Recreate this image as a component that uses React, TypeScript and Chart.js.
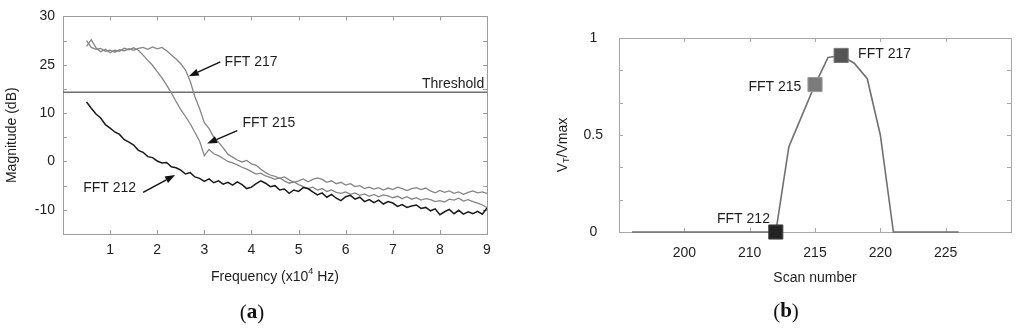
import React, { useEffect, useRef } from "react";
import { Chart, registerables } from "chart.js";

Chart.register(...registerables);

// ---------------- Panel (a): FFT magnitude spectra ----------------
const frequency = [
  0.5, 0.6, 0.7, 0.8, 0.9, 1.0, 1.1, 1.2, 1.3, 1.4, 1.5, 1.6, 1.7, 1.8, 1.9, 2.0, 2.1, 2.2, 2.3, 2.4,
  2.5, 2.6, 2.7, 2.8, 2.9, 3.0, 3.1, 3.2, 3.3, 3.4, 3.5, 3.6, 3.7, 3.8, 3.9, 4.0, 4.1, 4.2, 4.3, 4.4,
  4.5, 4.6, 4.7, 4.8, 4.9, 5.0, 5.1, 5.2, 5.3, 5.4, 5.5, 5.6, 5.7, 5.8, 5.9, 6.0, 6.1, 6.2, 6.3, 6.4,
  6.5, 6.6, 6.7, 6.8, 6.9, 7.0, 7.1, 7.2, 7.3, 7.4, 7.5, 7.6, 7.7, 7.8, 7.9, 8.0, 8.1, 8.2, 8.3, 8.4,
  8.5, 8.6, 8.7, 8.8, 8.9, 9.0,
];

const fft212 = [
  12.3, 11.0, 9.8, 9.0, 7.6, 6.9, 6.1, 5.6, 4.5, 4.0, 3.4, 2.3, 1.9, 1.0, 0.8, 0.1, -0.3, -0.2, -1.1, -1.3,
  -1.8, -2.6, -2.3, -3.2, -3.5, -4.1, -3.6, -4.4, -4.0, -4.7, -4.3, -4.9, -4.2, -4.8, -5.6, -5.3, -4.6, -4.0, -4.5, -5.2,
  -5.0, -5.9, -5.7, -6.6, -5.9, -6.2, -5.4, -5.6, -6.3, -6.9, -6.5, -7.4, -6.8, -7.6, -8.1, -7.3, -7.0, -7.8, -7.4, -8.3,
  -7.9, -8.5, -8.0, -8.8, -8.3, -8.6, -9.3, -8.9, -9.5, -9.2, -9.0, -9.7, -9.5, -10.2, -9.8, -11.0, -10.4, -9.9, -10.8, -10.1,
  -10.9, -10.4, -10.8, -10.3, -10.9, -9.6,
];

const fft215 = [
  23.8, 25.2, 23.5, 22.7, 23.2, 22.5, 23.0, 22.8, 23.4, 23.1, 23.5, 23.0, 22.0, 20.9, 19.9, 18.6, 17.3, 15.8, 14.2, 12.4,
  10.7, 9.3, 7.8, 6.0, 4.2, 1.2, 2.5, 1.6, 1.2, 0.6, 0.0, -0.3, -0.7, -1.2, -1.6, -2.1, -2.6, -2.4, -3.0, -3.3,
  -3.7, -3.4, -4.0, -4.5, -4.2, -4.8, -5.2, -5.6, -5.3, -5.9, -5.6, -6.2, -5.9, -6.4, -6.6, -6.3, -6.8, -6.5, -7.0, -6.7,
  -7.2, -6.8, -7.3, -6.9, -7.1, -7.5, -7.2, -7.7, -7.3, -7.8, -7.5, -8.0, -7.7, -7.9, -8.3, -8.1, -8.4, -7.8, -8.0, -7.6,
  -8.2, -7.9, -8.3, -8.6, -9.0, -9.5,
];

const fft217 = [
  25.0, 23.6, 23.2, 23.4, 22.8, 23.0, 22.6, 23.1, 22.9, 23.3, 23.0, 23.4, 23.6, 23.2, 23.7, 23.3, 23.6, 22.9, 22.0, 21.2,
  20.2, 18.9, 16.6, 13.4, 10.9, 8.0, 6.8, 5.0, 4.0, 2.8, 1.5, 0.9, 0.3, -0.1, 0.2, -0.5, -0.8, -1.6, -2.3, -2.8,
  -3.1, -3.5, -3.2, -3.8, -4.3, -4.0, -3.6, -4.2, -3.7, -3.4, -3.7, -4.3, -4.0, -4.6, -4.3, -4.9, -4.6, -5.2, -5.0, -5.6,
  -5.3, -5.7, -5.4, -5.9, -5.5, -5.8, -5.3, -5.6, -6.0, -5.6, -5.4, -5.8, -5.5, -6.1, -6.5, -6.0, -6.4, -6.1, -6.6, -6.3,
  -6.8, -6.4, -6.1, -6.5, -6.3, -6.6,
];

const thresholdLevel = 14.3;

const freqTickValues = [0, 1, 2, 3, 4, 5, 6, 7, 8, 9];
const freqTickLabels = ["", "1", "2", "3", "4", "5", "6", "7", "8", "9"];
const magTickValues = [-15, -10, -5, 0, 5, 10, 15, 20, 25, 30];
const magTickLabels = ["", "-10", "", "0", "", "10", "", "25", "", "30"];

// annotation texts and arrows (data coordinates)
const noteTexts = ["FFT 217", "FFT 215", "FFT 212"];
const noteTextX = [3.43, 3.81, 0.43];
const noteTextY = [20.5, 7.9, -5.5];
const noteArrowFromX = [3.34, 3.7, 1.7];
const noteArrowFromY = [20.6, 6.4, -6.4];
const noteArrowToX = [2.67, 3.06, 2.38];
const noteArrowToY = [17.6, 3.7, -2.8];
const thresholdText = "Threshold";
const thresholdTextX = 8.94;
const thresholdTextY = 16.0;

// ---------------- Panel (b): normalised voltage vs scan ----------------
const scanNumbers = [
  201, 202, 203, 204, 205, 206, 207, 208, 209, 210, 211, 212, 213, 214, 215, 216, 217, 218, 219, 220,
  221, 222, 223, 224, 225, 226,
];
const ratio = [
  0, 0, 0, 0, 0, 0, 0, 0, 0, 0, 0, 0, 0.44, 0.6, 0.76, 0.9, 0.91, 0.87, 0.79, 0.5,
  0, 0, 0, 0, 0, 0,
];
const markedScans = [212, 215, 217];
const markedRatios = [0, 0.76, 0.91];
const markedLabels = ["FFT 212", "FFT 215", "FFT 217"];
const markedLabelX = [211.55, 213.95, 218.3];
const markedLabelY = [0.067, 0.747, 0.918];
const markedLabelAlign = ["right", "right", "left"];

const scanTickValues = [200, 205, 210, 215, 220, 225, 230];
const scanTickLabels = ["", "200", "210", "215", "220", "225", ""];
const ratioTickValues = [0, 1 / 6, 2 / 6, 3 / 6, 4 / 6, 5 / 6, 1];
const ratioTickLabels = ["0", "", "", "0.5", "", "", "1"];

// ---------------- helpers ----------------
const SANS = "'Liberation Sans', Arial, Helvetica, sans-serif";
const SERIF = "'Liberation Serif', 'Times New Roman', serif";
const TEXT = "#1e1e1e";

function labelFor(values: number[], labels: string[], v: number): string {
  for (let i = 0; i < values.length; i++) {
    if (Math.abs(values[i] - v) < 1e-6) return labels[i];
  }
  return "";
}

function drawFrame(chart: any, xVals: number[], yVals: number[], color: string) {
  const { ctx, chartArea } = chart;
  const { left, right, top, bottom } = chartArea;
  const xs = chart.scales.x;
  const ys = chart.scales.y;
  const tl = 4;
  ctx.save();
  ctx.strokeStyle = color;
  ctx.lineWidth = 1;
  ctx.strokeRect(Math.round(left) + 0.5, Math.round(top) + 0.5, Math.round(right - left), Math.round(bottom - top));
  ctx.beginPath();
  xVals.forEach((v) => {
    if (v <= xs.min || v >= xs.max) return;
    const px = Math.round(xs.getPixelForValue(v)) + 0.5;
    ctx.moveTo(px, bottom);
    ctx.lineTo(px, bottom - tl);
    ctx.moveTo(px, top);
    ctx.lineTo(px, top + tl);
  });
  yVals.forEach((v) => {
    if (v <= ys.min || v >= ys.max) return;
    const py = Math.round(ys.getPixelForValue(v)) + 0.5;
    ctx.moveTo(left, py);
    ctx.lineTo(left + tl, py);
    ctx.moveTo(right, py);
    ctx.lineTo(right - tl, py);
  });
  ctx.stroke();
  ctx.restore();
}

function drawArrow(ctx: CanvasRenderingContext2D, x1: number, y1: number, x2: number, y2: number, color: string) {
  const ang = Math.atan2(y2 - y1, x2 - x1);
  const head = 10;
  const half = 3.6;
  const bx = x2 - head * Math.cos(ang);
  const by = y2 - head * Math.sin(ang);
  ctx.save();
  ctx.strokeStyle = color;
  ctx.fillStyle = color;
  ctx.lineWidth = 1.4;
  ctx.beginPath();
  ctx.moveTo(x1, y1);
  ctx.lineTo(bx, by);
  ctx.stroke();
  ctx.beginPath();
  ctx.moveTo(x2, y2);
  ctx.lineTo(bx + half * Math.sin(ang), by - half * Math.cos(ang));
  ctx.lineTo(bx - half * Math.sin(ang), by + half * Math.cos(ang));
  ctx.closePath();
  ctx.fill();
  ctx.restore();
}

function drawCaption(ctx: CanvasRenderingContext2D, letter: string, cx: number, cy: number) {
  const reg = `normal 21px ${SERIF}`;
  const bold = `bold 21px ${SERIF}`;
  ctx.save();
  ctx.fillStyle = "#111";
  ctx.textBaseline = "middle";
  ctx.textAlign = "left";
  ctx.font = reg;
  const wp = ctx.measureText("(").width;
  const wq = ctx.measureText(")").width;
  ctx.font = bold;
  const wl = ctx.measureText(letter).width;
  let x = cx - (wp + wl + wq) / 2;
  ctx.font = reg;
  ctx.fillText("(", x, cy);
  x += wp;
  ctx.font = bold;
  ctx.fillText(letter, x, cy);
  x += wl;
  ctx.font = reg;
  ctx.fillText(")", x, cy);
  ctx.restore();
}

function drawParts(ctx: CanvasRenderingContext2D, parts: { t: string; size: number; dy: number }[], cx: number, cy: number) {
  let total = 0;
  parts.forEach((p) => {
    ctx.font = `normal ${p.size}px ${SANS}`;
    total += ctx.measureText(p.t).width;
  });
  let x = cx - total / 2;
  parts.forEach((p) => {
    ctx.font = `normal ${p.size}px ${SANS}`;
    ctx.fillText(p.t, x, cy + p.dy);
    x += ctx.measureText(p.t).width;
  });
}

const tickFont = { family: SANS, size: 14 };

// ---------------- chart configs ----------------
function makeLeftConfig(): any {
  const pts = (ys: number[]) => frequency.map((x, i) => ({ x, y: ys[i] }));
  const panelPlugin = {
    id: "panelA",
    beforeDatasetsDraw(chart: any) {
      drawFrame(chart, freqTickValues, magTickValues, "#9c9c9c");
    },
    afterDatasetsDraw(chart: any) {
      const { ctx, chartArea } = chart;
      const xs = chart.scales.x;
      const ys = chart.scales.y;
      ctx.save();
      ctx.fillStyle = TEXT;
      ctx.font = `normal 14px ${SANS}`;
      ctx.textBaseline = "middle";
      ctx.textAlign = "left";
      noteTexts.forEach((t, i) => {
        ctx.fillText(t, xs.getPixelForValue(noteTextX[i]), ys.getPixelForValue(noteTextY[i]));
        drawArrow(
          ctx,
          xs.getPixelForValue(noteArrowFromX[i]),
          ys.getPixelForValue(noteArrowFromY[i]),
          xs.getPixelForValue(noteArrowToX[i]),
          ys.getPixelForValue(noteArrowToY[i]),
          "#111"
        );
      });
      ctx.textAlign = "right";
      ctx.fillStyle = TEXT;
      ctx.font = `normal 14px ${SANS}`;
      ctx.fillText(thresholdText, xs.getPixelForValue(thresholdTextX), ys.getPixelForValue(thresholdTextY));

      // axis titles
      ctx.textAlign = "left";
      ctx.textBaseline = "middle";
      const cx = (chartArea.left + chartArea.right) / 2;
      drawParts(
        ctx,
        [
          { t: "Frequency (x10", size: 14, dy: 0 },
          { t: "4", size: 9, dy: -5 },
          { t: " Hz)", size: 14, dy: 0 },
        ],
        cx,
        chartArea.bottom + 43
      );
      ctx.save();
      ctx.translate(chartArea.left - 51, (chartArea.top + chartArea.bottom) / 2 + 10);
      ctx.rotate(-Math.PI / 2);
      drawParts(ctx, [{ t: "Magnitude (dB)", size: 14, dy: 0 }], 0, 0);
      ctx.restore();
      drawCaption(ctx, "a", 252, 313);
      ctx.restore();
    },
  };

  return {
    type: "line",
    data: {
      datasets: [
        { label: "FFT 212", data: pts(fft212), borderColor: "#1a1a1a", borderWidth: 1.5 },
        { label: "FFT 215", data: pts(fft215), borderColor: "#858585", borderWidth: 1.3 },
        { label: "FFT 217", data: pts(fft217), borderColor: "#858585", borderWidth: 1.3 },
        {
          label: "Threshold",
          data: [
            { x: freqTickValues[0], y: thresholdLevel },
            { x: freqTickValues[freqTickValues.length - 1], y: thresholdLevel },
          ],
          borderColor: "#6f6f6f",
          borderWidth: 1.6,
        },
      ],
    },
    options: {
      responsive: false,
      animation: false,
      events: [],
      layout: { padding: { left: 0, top: 12, right: 25, bottom: 0 } },
      elements: { point: { radius: 0 }, line: { tension: 0 } },
      plugins: { legend: { display: false }, tooltip: { enabled: false } },
      scales: {
        x: {
          type: "linear",
          min: 0,
          max: 9,
          afterBuildTicks: (s: any) => {
            s.ticks = freqTickValues.map((v) => ({ value: v }));
          },
          afterFit: (s: any) => {
            s.height = 94;
          },
          grid: { display: false, drawTicks: false },
          border: { display: false },
          ticks: {
            autoSkip: false,
            maxRotation: 0,
            minRotation: 0,
            padding: 8,
            color: TEXT,
            font: tickFont,
            callback: (v: any) => labelFor(freqTickValues, freqTickLabels, Number(v)),
          },
        },
        y: {
          type: "linear",
          min: -15,
          max: 30,
          afterBuildTicks: (s: any) => {
            s.ticks = magTickValues.map((v) => ({ value: v }));
          },
          afterFit: (s: any) => {
            s.width = 63;
          },
          grid: { display: false, drawTicks: false },
          border: { display: false },
          ticks: {
            autoSkip: false,
            padding: 8,
            color: TEXT,
            font: tickFont,
            callback: (v: any) => labelFor(magTickValues, magTickLabels, Number(v)),
          },
        },
      },
    },
    plugins: [panelPlugin],
  };
}

function makeRightConfig(): any {
  const panelPlugin = {
    id: "panelB",
    beforeDatasetsDraw(chart: any) {
      drawFrame(chart, scanTickValues, ratioTickValues, "#a8a8a8");
    },
    afterDatasetsDraw(chart: any) {
      const { ctx, chartArea } = chart;
      const xs = chart.scales.x;
      const ys = chart.scales.y;
      ctx.save();
      ctx.fillStyle = TEXT;
      ctx.font = `normal 14px ${SANS}`;
      ctx.textBaseline = "middle";
      markedLabels.forEach((t, i) => {
        ctx.textAlign = markedLabelAlign[i] as CanvasTextAlign;
        ctx.fillText(t, xs.getPixelForValue(markedLabelX[i]), ys.getPixelForValue(markedLabelY[i]));
      });
      ctx.textAlign = "left";
      const cx = (chartArea.left + chartArea.right) / 2;
      drawParts(ctx, [{ t: "Scan number", size: 14, dy: 0 }], cx, chartArea.bottom + 46);
      ctx.save();
      ctx.translate(chartArea.left - 56, (chartArea.top + chartArea.bottom) / 2 + 10);
      ctx.rotate(-Math.PI / 2);
      drawParts(
        ctx,
        [
          { t: "V", size: 14, dy: 0 },
          { t: "T", size: 9, dy: 4 },
          { t: "/Vmax", size: 14, dy: 0 },
        ],
        0,
        0
      );
      ctx.restore();
      drawCaption(ctx, "b", 274, 312);
      ctx.restore();
    },
  };

  return {
    type: "line",
    data: {
      datasets: [
        {
          label: "Marked scans",
          data: markedScans.map((x, i) => ({ x, y: markedRatios[i] })),
          showLine: false,
          pointStyle: "rect",
          pointRadius: 10,
          pointBackgroundColor: ["#232323", "#7b7b7b", "#555555"],
          pointBorderColor: ["#4a4a4a", "#9a9a9a", "#777777"],
          pointBorderWidth: 1,
          clip: false,
        },
        {
          label: "Vt/Vmax",
          data: scanNumbers.map((x, i) => ({ x, y: ratio[i] })),
          borderColor: "#707070",
          borderWidth: 1.6,
          pointRadius: 0,
          clip: false,
        },
      ],
    },
    options: {
      responsive: false,
      animation: false,
      events: [],
      layout: { padding: { left: 0, top: 38, right: 6, bottom: 0 } },
      elements: { line: { tension: 0 } },
      plugins: { legend: { display: false }, tooltip: { enabled: false } },
      scales: {
        x: {
          type: "linear",
          min: 200,
          max: 230,
          afterBuildTicks: (s: any) => {
            s.ticks = scanTickValues.map((v) => ({ value: v }));
          },
          afterFit: (s: any) => {
            s.height = 96;
          },
          grid: { display: false, drawTicks: false },
          border: { display: false },
          ticks: {
            autoSkip: false,
            maxRotation: 0,
            minRotation: 0,
            padding: 13,
            color: TEXT,
            font: tickFont,
            callback: (v: any) => labelFor(scanTickValues, scanTickLabels, Number(v)),
          },
        },
        y: {
          type: "linear",
          min: 0,
          max: 1,
          afterBuildTicks: (s: any) => {
            s.ticks = ratioTickValues.map((v) => ({ value: v }));
          },
          afterFit: (s: any) => {
            s.width = 107;
          },
          grid: { display: false, drawTicks: false },
          border: { display: false },
          ticks: {
            autoSkip: false,
            padding: 16,
            crossAlign: "center",
            color: TEXT,
            font: tickFont,
            callback: (v: any) => labelFor(ratioTickValues, ratioTickLabels, Number(v)),
          },
        },
      },
    },
    plugins: [panelPlugin],
  };
}

export default function App() {
  const leftRef = useRef<HTMLCanvasElement>(null);
  const rightRef = useRef<HTMLCanvasElement>(null);

  useEffect(() => {
    const a = new Chart(leftRef.current as HTMLCanvasElement, makeLeftConfig());
    const b = new Chart(rightRef.current as HTMLCanvasElement, makeRightConfig());
    return () => {
      a.destroy();
      b.destroy();
    };
  }, []);

  return (
    <div style={{ position: "absolute", left: 0, top: 0, width: 1024, height: 328, background: "#ffffff", overflow: "hidden" }}>
      <canvas
        ref={leftRef}
        width={512}
        height={328}
        style={{ position: "absolute", left: 0, top: 0, width: 512, height: 328, display: "block" }}
      />
      <canvas
        ref={rightRef}
        width={512}
        height={328}
        style={{ position: "absolute", left: 512, top: 0, width: 512, height: 328, display: "block" }}
      />
    </div>
  );
}
